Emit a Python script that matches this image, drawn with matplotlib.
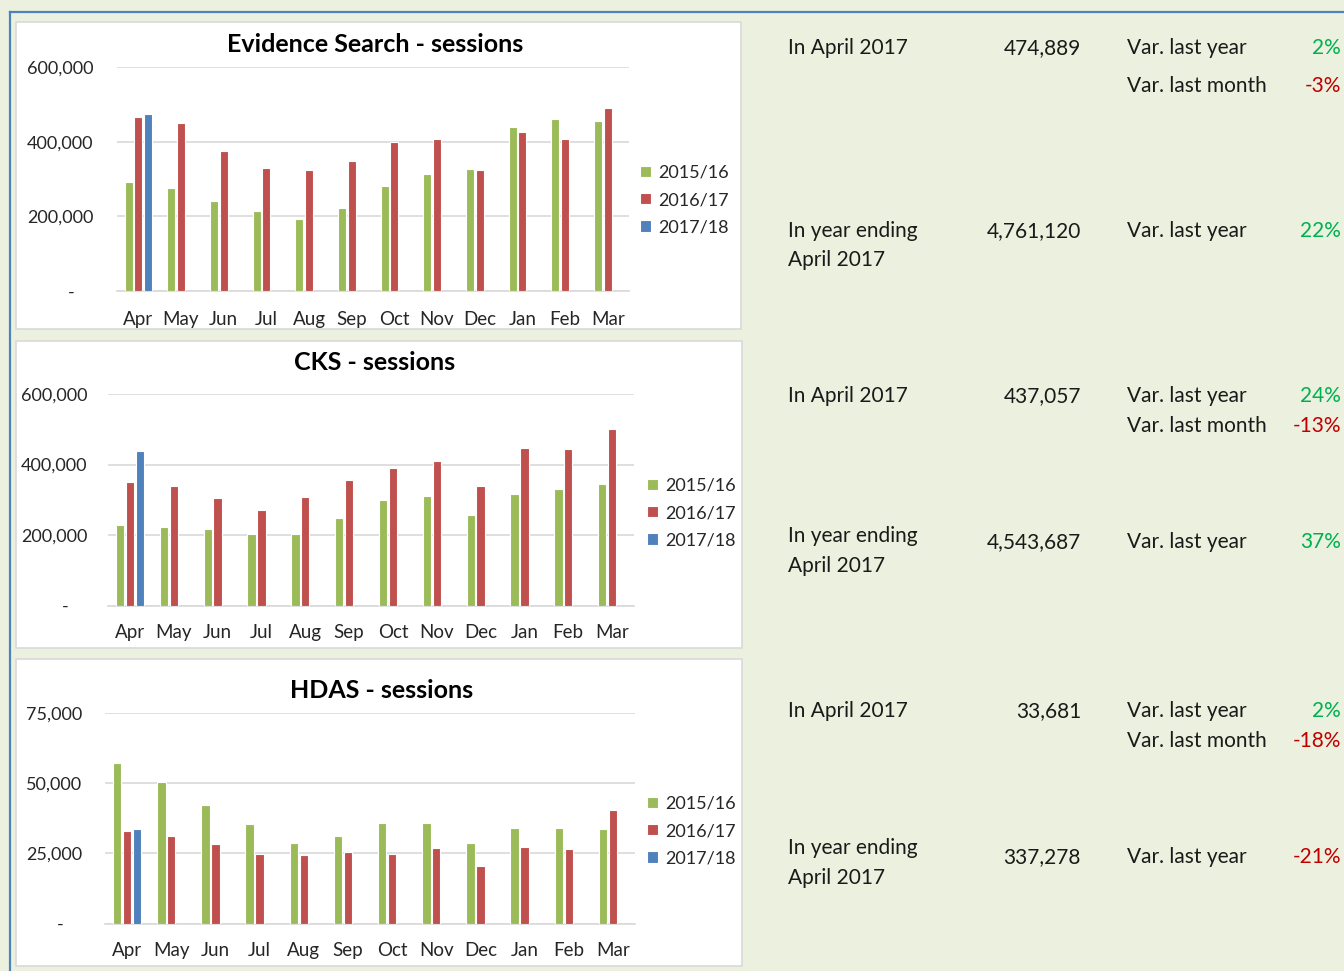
import numpy as np
import matplotlib
matplotlib.use("Agg")
import matplotlib.pyplot as plt
from matplotlib.patches import Rectangle
from matplotlib.lines import Line2D
from matplotlib.ticker import FuncFormatter

plt.rcParams['font.family'] = ['Lato', 'DejaVu Sans']

# Données
months = ['Apr', 'May', 'Jun', 'Jul', 'Aug', 'Sep', 'Oct', 'Nov', 'Dec', 'Jan', 'Feb', 'Mar']
years = ['2015/16', '2016/17', '2017/18']
colors = ['#9BBB59', '#C0504D', '#4F81BD']

es_1516 = [291000, 275000, 242000, 214000, 194000, 223000, 281000, 313000, 326000, 438000, 461000, 455000]
es_1617 = [465000, 451000, 374000, 329000, 323000, 348000, 399000, 406000, 323000, 426000, 406000, 489000]
es_1718 = [474889]

cks_1516 = [229000, 222000, 218000, 204000, 204000, 249000, 300000, 310000, 256000, 317000, 331000, 344000]
cks_1617 = [351000, 338000, 304000, 270000, 307000, 355000, 389000, 410000, 338000, 447000, 443000, 500000]
cks_1718 = [437057]

hdas_1516 = [57100, 50400, 42300, 35600, 28700, 31200, 35900, 35800, 28600, 34100, 34100, 33700]
hdas_1617 = [33000, 31200, 28300, 24900, 24400, 25700, 24900, 27000, 20500, 27300, 26500, 40500]
hdas_1718 = [33681]

titles = ['Evidence Search - sessions', 'CKS - sessions', 'HDAS - sessions']
yticks = [[0, 200000, 400000, 600000], [0, 200000, 400000, 600000], [0, 25000, 50000, 75000]]

month_values = ['474,889', '437,057', '33,681']
year_values = ['4,761,120', '4,543,687', '337,278']
var_last_year = ['2%', '24%', '2%']
var_last_month = ['-3%', '-13%', '-18%']
var_year_total = ['22%', '37%', '-21%']

series = [(es_1516, es_1617, es_1718), (cks_1516, cks_1617, cks_1718),
          (hdas_1516, hdas_1617, hdas_1718)]

# Mise en page (pixels)
W, H = 1344, 971
panels = [(16, 22, 741, 329), (16, 341, 742, 648), (16, 659, 742, 966)]
axes_box = [(117, 67, 629, 291), (108, 394, 634, 605.7), (105, 713, 635, 923.7)]
title_pos = [(375, 44), (375, 362), (382, 690)]
legend_pos = [(640, 200), (647, 513), (647, 831)]
ypad = [17, 15, 16.5]
xpad = [14.5, 13, 13]
text_rows = [(48, 86, 231, 260, 231), (396, 426, 536, 566, 542), (711, 741, 848, 878, 857)]


def fx(x):
    return x / W


def fy(y):
    return 1 - y / H


fig = plt.figure(figsize=(W / 100, H / 100), dpi=100)
fig.patch.set_facecolor('#EBF1DE')

# cadre bleu
fig.add_artist(Line2D([fx(10), 1], [fy(12), fy(12)], color='#4F81BD', lw=1.6))
fig.add_artist(Line2D([fx(10), fx(10)], [fy(12), 0], color='#4F81BD', lw=1.6))

fmt = FuncFormatter(lambda v, p: '-    ' if v == 0 else f'{v:,.0f}')
x = np.arange(len(months))
off = 0.225
bw = 0.19
fs_tick = 13
fs_text = 15

for i in range(3):
    l, t, r, b = panels[i]
    fig.add_artist(Rectangle((fx(l), fy(b)), (r - l) / W, (b - t) / H, transform=fig.transFigure,
                             facecolor='white', edgecolor='#D9D9D9', lw=1.2, zorder=-1))
    l, t, r, b = axes_box[i]
    ax = fig.add_axes([fx(l), fy(b), (r - l) / W, (b - t) / H])
    ax.set_facecolor('none')
    s1, s2, s3 = series[i]
    ax.bar(x - off, s1, bw, color=colors[0], edgecolor='white', lw=0.8, label=years[0], zorder=3)
    ax.bar(x, s2, bw, color=colors[1], edgecolor='white', lw=0.8, label=years[1], zorder=3)
    ax.bar(x[:len(s3)] + off, s3, bw, color=colors[2], edgecolor='white', lw=0.8, label=years[2], zorder=3)
    ax.set_xlim(-0.5, 11.5)
    ax.set_ylim(0, yticks[i][-1])
    ax.set_yticks(yticks[i])
    ax.yaxis.set_major_formatter(fmt)
    ax.set_xticks(x)
    ax.set_xticklabels(months)
    ax.tick_params(axis='both', length=0, colors='#262626')
    ax.tick_params(axis='y', pad=ypad[i], labelsize=fs_tick)
    ax.tick_params(axis='x', pad=xpad[i], labelsize=13.5)
    ax.yaxis.grid(True, color='#D9D9D9', lw=1.2, zorder=0)
    for sp in ['top', 'right', 'left']:
        ax.spines[sp].set_visible(False)
    ax.spines['bottom'].set_color('#D9D9D9')
    ax.spines['bottom'].set_linewidth(1.2)

    tx, ty = title_pos[i]
    fig.text(fx(tx), fy(ty), titles[i], ha='center', va='center', fontsize=18,
             fontweight='bold', color='#000000')

    lx, ly = legend_pos[i]
    ax.legend(loc='center left', bbox_to_anchor=(fx(lx), fy(ly)), bbox_transform=fig.transFigure,
              frameon=False, fontsize=fs_tick, handlelength=0.62, handleheight=0.62,
              handletextpad=0.4, labelspacing=0.62, borderpad=0, borderaxespad=0,
              labelcolor='#262626')

    # texte de synthèse
    r1, r2, r3, r4, r5 = text_rows[i]
    kw = dict(fontsize=fs_text, color='#1A1A1A', va='center')
    fig.text(fx(788), fy(r1), 'In April 2017', ha='left', **kw)
    fig.text(fx(1081), fy(r1), month_values[i], ha='right', **kw)
    fig.text(fx(1127), fy(r1), 'Var. last year', ha='left', **kw)
    fig.text(fx(1127), fy(r2), 'Var. last month', ha='left', **kw)
    fig.text(fx(788), fy(r3), 'In year ending', ha='left', **kw)
    fig.text(fx(788), fy(r4), 'April 2017', ha='left', **kw)
    fig.text(fx(1081), fy(r5), year_values[i], ha='right', **kw)
    fig.text(fx(1127), fy(r5), 'Var. last year', ha='left', **kw)
    for val, yy in [(var_last_year[i], r1), (var_last_month[i], r2), (var_year_total[i], r5)]:
        c = '#C00000' if val.startswith('-') else '#00B050'
        fig.text(fx(1341), fy(yy), val, ha='right', fontsize=fs_text, color=c, va='center')

fig.savefig('out.png', dpi=100, facecolor=fig.get_facecolor())
